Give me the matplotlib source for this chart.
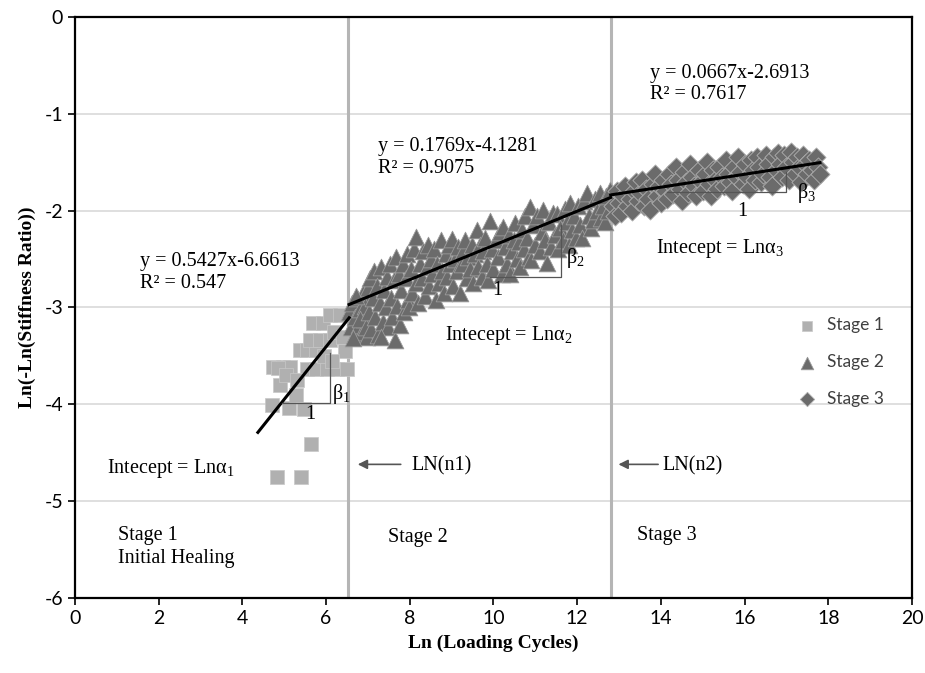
import matplotlib
matplotlib.use("Agg")
import matplotlib.pyplot as plt
import numpy as np

plt.rcParams["axes.unicode_minus"] = False

# ---------------- data ----------------
stage1_x = [4.82, 5.39, 5.63, 4.70, 5.12, 5.46, 4.90, 5.28, 4.74, 4.98, 5.14, 5.54, 5.77, 6.01, 6.25,
            6.49, 5.38, 5.54, 5.77, 5.61, 5.85, 6.09, 5.69, 5.93, 6.09, 6.33, 6.20, 6.40, 6.45, 5.95,
            6.15, 4.85, 5.05, 5.30]
stage1_y = [-4.75, -4.75, -4.41, -4.01, -4.04, -4.05, -3.80, -3.90, -3.61, -3.61, -3.61, -3.63, -3.63, -3.63, -3.63,
            -3.63, -3.44, -3.44, -3.44, -3.34, -3.34, -3.34, -3.16, -3.16, -3.08, -3.08, -3.25, -3.30, -3.45, -3.50,
            -3.55, -3.62, -3.70, -3.75]

stage2_x = [6.55, 6.60, 6.62, 6.68, 6.70, 6.75, 6.78, 6.82, 6.85, 6.88, 6.90, 6.93, 6.97, 7.00, 6.65, 6.72, 6.80, 6.95,
            7.03, 7.05, 7.08, 7.12, 7.15, 7.18, 7.22, 7.25, 7.28, 7.32, 7.35, 7.38, 7.42, 7.45, 7.48, 7.30,
            7.52, 7.55, 7.58, 7.62, 7.65, 7.68, 7.70, 7.73, 7.77, 7.80, 7.83, 7.87, 7.90, 7.93, 7.96, 7.99,
            8.03, 8.06, 8.10, 8.14, 8.16, 8.20, 8.24, 8.28, 8.32, 8.36, 8.40, 8.44, 8.47, 8.50,
            8.54, 8.58, 8.62, 8.66, 8.70, 8.74, 8.78, 8.82, 8.86, 8.90, 8.94, 8.97, 9.00,
            9.04, 9.08, 9.12, 9.16, 9.20, 9.24, 9.28, 9.32, 9.36, 9.40, 9.44, 9.48,
            9.52, 9.56, 9.60, 9.64, 9.68, 9.72, 9.76, 9.80, 9.84, 9.88, 9.92, 9.96,
            10.00, 10.05, 10.10, 10.15, 10.20, 10.23, 10.28, 10.32, 10.36, 10.40, 10.44, 10.48,
            10.51, 10.55, 10.60, 10.64, 10.68, 10.72, 10.76, 10.80, 10.84, 10.87, 10.90, 10.95,
            11.00, 11.05, 11.10, 11.15, 11.19, 11.23, 11.27, 11.32, 11.38, 11.42, 11.47,
            11.51, 11.55, 11.60, 11.65, 11.70, 11.75, 11.80, 11.83, 11.88, 11.93, 11.97,
            12.02, 12.07, 12.12, 12.17, 12.23, 12.28, 12.33, 12.38, 12.43, 12.48,
            12.54, 12.58, 12.62, 12.66, 12.70, 12.74, 12.78]
stage2_y = [-3.05, -3.20, -2.95, -3.28, -3.10, -2.90, -3.18, -3.02, -3.25, -2.85, -3.12, -2.98, -3.30, -2.80, -3.32, -2.88, -3.12, -3.20,
            -3.05, -2.70, -3.22, -2.90, -2.62, -3.10, -2.78, -3.28, -2.95, -2.58, -3.15, -2.82, -3.00, -2.68, -3.20, -3.30,
            -2.55, -2.90, -3.10, -2.72, -3.34, -2.48, -2.98, -2.65, -3.18, -2.82, -2.55, -3.05, -2.70, -2.45, -2.92, -3.00,
            -2.60, -2.85, -2.40, -2.75, -2.27, -2.95, -2.55, -2.70, -2.42, -2.88, -2.58, -2.35, -2.78, -2.50,
            -2.65, -2.40, -2.92, -2.55, -2.75, -2.30, -2.62, -2.85, -2.45, -2.68, -2.35, -2.55, -2.29,
            -2.78, -2.50, -2.62, -2.38, -2.85, -2.55, -2.42, -2.30, -2.70, -2.48, -2.60, -2.35,
            -2.75, -2.45, -2.20, -2.58, -2.35, -2.68, -2.42, -2.28, -2.55, -2.72, -2.11, -2.40,
            -2.60, -2.30, -2.48, -2.22, -2.65, -2.17, -2.38, -2.55, -2.25, -2.65, -2.42, -2.30,
            -2.13, -2.50, -2.32, -2.58, -2.20, -2.40, -2.05, -2.28, -2.48, -1.96, -2.51, -2.15,
            -2.35, -2.05, -2.42, -2.22, -1.99, -2.30, -2.54, -2.12, -2.38, -2.02, -2.25,
            -2.03, -2.40, -2.18, -2.30, -1.98, -2.12, -2.35, -1.92, -2.20, -2.05, -2.28,
            -1.95, -2.15, -2.28, -1.90, -1.82, -2.05, -2.18, -2.10, -1.88, -2.00,
            -1.82, -2.08, -1.95, -2.12, -1.85, -2.00, -1.79]

stage3_x = [12.85, 12.90, 12.95, 13.00, 13.05, 13.10, 13.15, 13.20, 13.25, 13.30, 13.35, 13.40, 13.45, 13.50,
            13.55, 13.60, 13.65, 13.70, 13.74, 13.80, 13.85, 13.90, 13.95, 14.00, 14.05, 14.10, 14.15, 14.20,
            14.25, 14.30, 14.35, 14.40, 14.45, 14.50, 14.55, 14.60, 14.65, 14.70, 14.75, 14.80, 14.85, 14.90,
            14.95, 15.00, 15.05, 15.10, 15.15, 15.20, 15.25, 15.30, 15.35, 15.40, 15.45, 15.50, 15.55, 15.60,
            15.65, 15.70, 15.75, 15.80, 15.85, 15.90, 15.95, 16.00, 16.05, 16.10, 16.15, 16.20, 16.25, 16.30,
            16.35, 16.40, 16.45, 16.50, 16.55, 16.60, 16.65, 16.70, 16.75, 16.80, 16.85, 16.90, 16.95, 17.00,
            17.05, 17.10, 17.15, 17.20, 17.25, 17.30, 17.35, 17.40, 17.45, 17.50, 17.55, 17.60, 17.65, 17.70,
            17.75, 17.80]
stage3_y = [-1.95, -2.05, -1.80, -1.92, -2.02, -1.85, -1.75, -1.95, -1.88, -2.00, -1.80, -1.70, -1.90, -1.82,
            -1.68, -1.95, -1.78, -1.88, -1.99, -1.72, -1.62, -1.85, -1.75, -1.92, -1.68, -1.80, -1.88, -1.62,
            -1.72, -1.83, -1.55, -1.68, -1.78, -1.90, -1.60, -1.70, -1.82, -1.52, -1.65, -1.75, -1.85, -1.58,
            -1.70, -1.80, -1.62, -1.50, -1.72, -1.85, -1.58, -1.68, -1.78, -1.55, -1.65, -1.75, -1.48, -1.62,
            -1.70, -1.80, -1.55, -1.65, -1.45, -1.60, -1.72, -1.52, -1.65, -1.78, -1.48, -1.58, -1.68, -1.45,
            -1.55, -1.70, -1.62, -1.42, -1.52, -1.65, -1.75, -1.45, -1.58, -1.40, -1.52, -1.65, -1.42, -1.55,
            -1.68, -1.39, -1.50, -1.62, -1.45, -1.55, -1.70, -1.42, -1.52, -1.62, -1.48, -1.58, -1.68, -1.45,
            -1.55, -1.62]

# trend lines: slope, intercept, x-range
fit_slopes = [0.5427, 0.1769, 0.0667]
fit_intercepts = [-6.6613, -4.1281, -2.6913]
fit_ranges = [(4.37, 6.55), (6.55, 12.8), (12.8, 17.8)]
fit_r2 = ["0.547", "0.9075", "0.7617"]

boundaries = [6.52, 12.81]
legend_labels = ["Stage 1", "Stage 2", "Stage 3"]

# ---------------- figure ----------------
fig = plt.figure(figsize=(9.25, 6.73), dpi=100)
ax = fig.add_axes([75/925, 75/673, (912-75)/925, (598-17)/673])

ax.set_xlim(0, 20)
ax.set_ylim(-6, 0)
ax.set_xticks(range(0, 21, 2))
ax.set_yticks(range(-6, 1, 1))
ax.yaxis.grid(True, color="#d9d9d9", lw=1.2)
ax.set_axisbelow(True)
for s in ax.spines.values():
    s.set_linewidth(1.6)
    s.set_color("black")
ax.tick_params(direction="out", length=5, width=1.2, labelsize=14)
for lab in ax.get_xticklabels() + ax.get_yticklabels():
    lab.set_fontfamily("Lato")

serif = "Liberation Serif"
ax.set_xlabel("Ln (Loading Cycles)", fontfamily=serif, fontweight="bold", fontsize=14, labelpad=6)
ax.set_ylabel("Ln(-Ln(Stiffness Ratio))", fontfamily=serif, fontweight="bold", fontsize=14, labelpad=6)

for b in boundaries:
    ax.axvline(b, color="#b5b5b5", lw=2.2, zorder=1)

ax.scatter(stage1_x, stage1_y, marker="s", s=110, c="#b0b0b0", edgecolors="#c8c8c8", linewidths=0.5,
           zorder=3, label=legend_labels[0])
ax.scatter(stage2_x, stage2_y, marker="^", s=145, c="#6b6b6b", edgecolors="#9a9a9a", linewidths=0.6,
           zorder=3, label=legend_labels[1])
ax.scatter(stage3_x, stage3_y, marker="D", s=95, c="#6b6b6b", edgecolors="#b0b0b0", linewidths=0.6,
           zorder=3, label=legend_labels[2])

for m, b, (x0, x1) in zip(fit_slopes, fit_intercepts, fit_ranges):
    xs = np.array([x0, x1])
    ax.plot(xs, m * xs + b, color="black", lw=2.2, zorder=4)

# slope triangles
tri_col = "#555555"
ax.plot([4.94, 6.09, 6.09], [-3.99, -3.99, -3.47], color=tri_col, lw=0.9, zorder=5)
ax.plot([9.92, 11.61, 11.61], [-2.68, -2.68, -2.15], color=tri_col, lw=0.9, zorder=5)
ax.plot([14.14, 17.0, 17.0], [-1.81, -1.81, -1.60], color=tri_col, lw=0.9, zorder=5)

fs = 14.5
tk = dict(fontfamily=serif, fontsize=fs, zorder=6)
ax.text(5.62, -4.1, "1", ha="center", va="center", **tk)
ax.text(6.36, -3.89, r"$\mathregular{\beta_1}$", ha="center", va="center", **tk)
ax.text(10.08, -2.82, "1", ha="center", va="center", **tk)
ax.text(11.95, -2.49, r"$\mathregular{\beta_2}$", ha="center", va="center", **tk)
ax.text(15.94, -2.01, "1", ha="center", va="center", **tk)
ax.text(17.47, -1.82, r"$\mathregular{\beta_3}$", ha="center", va="center", **tk)

# equations
eq_pos = [(1.55, -2.53), (7.24, -1.34), (13.74, -0.58)]
for (ex, ey), m, b, r2 in zip(eq_pos, fit_slopes, fit_intercepts, fit_r2):
    ax.text(ex, ey, f"y = {m:.4f}x{b:.4f}", ha="left", va="center", **tk)
    ax.text(ex, ey - 0.22, f"R² = {r2}", ha="left", va="center", **tk)

ax.text(0.76, -4.66, r"Intecept = Ln$\mathregular{\alpha_1}$", ha="left", va="center", **tk)
ax.text(8.84, -3.29, r"Intecept = Ln$\mathregular{\alpha_2}$", ha="left", va="center", **tk)
ax.text(13.88, -2.39, r"Intecept = Ln$\mathregular{\alpha_3}$", ha="left", va="center", **tk)

ax.text(1.03, -5.35, "Stage 1", ha="left", va="center", **tk)
ax.text(1.03, -5.59, "Initial Healing", ha="left", va="center", **tk)
ax.text(7.48, -5.38, "Stage 2", ha="left", va="center", **tk)
ax.text(13.43, -5.35, "Stage 3", ha="left", va="center", **tk)

ax.text(8.05, -4.64, "LN(n1)", ha="left", va="center", **tk)
ax.text(14.03, -4.64, "LN(n2)", ha="left", va="center", **tk)
arrow = dict(arrowstyle="-|>", color="#555555", lw=1.2, mutation_scale=14)
ax.annotate("", xy=(6.69, -4.62), xytext=(7.85, -4.62), arrowprops=arrow, zorder=6)
ax.annotate("", xy=(12.92, -4.62), xytext=(14.0, -4.62), arrowprops=arrow, zorder=6)

leg = ax.legend(loc="upper left", bbox_to_anchor=(0.845, 0.495), frameon=False,
                prop={"family": "Lato", "size": 12.5}, handletextpad=0.15, labelspacing=1.2,
                markerscale=0.75, borderaxespad=0)
for t in leg.get_texts():
    t.set_color("#404040")

fig.savefig("out.png", dpi=100, facecolor="white")
